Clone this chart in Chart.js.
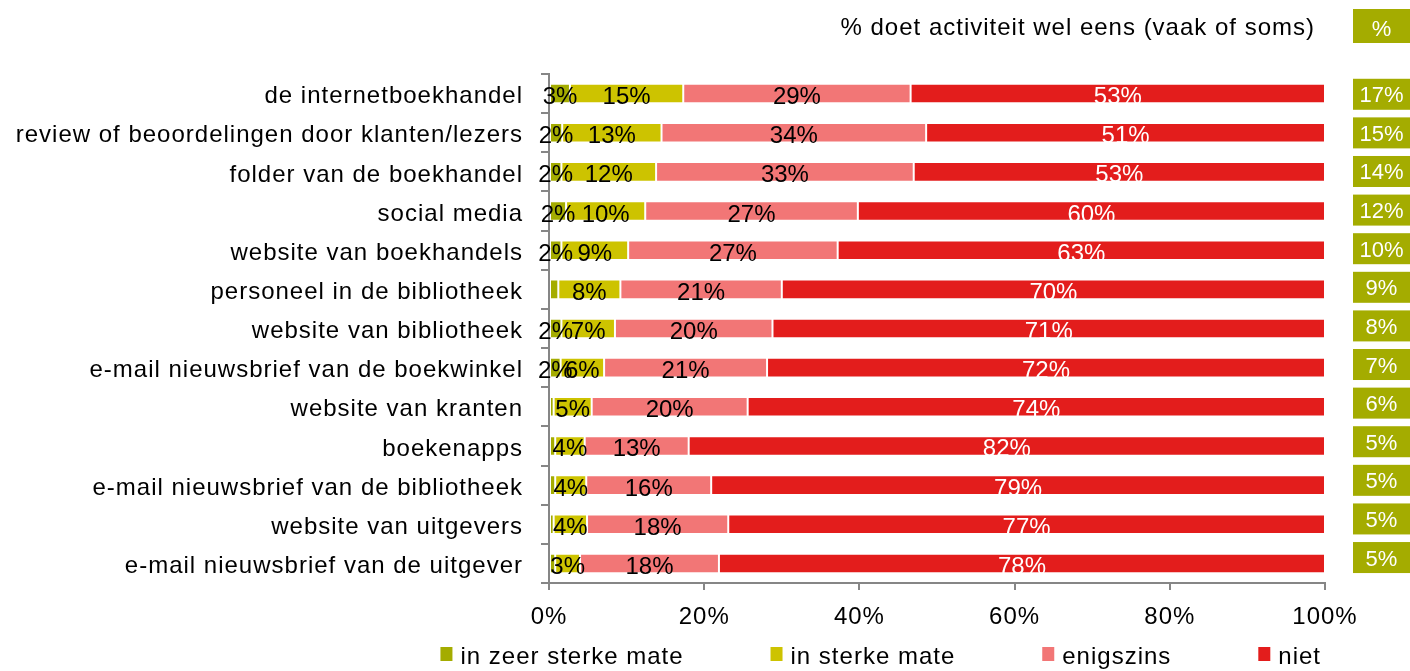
<!DOCTYPE html>
<html>
<head>
<meta charset="utf-8">
<script src="https://cdn.jsdelivr.net/npm/chart.js@4.4.1/dist/chart.umd.min.js"></script>
<style>
  html, body { margin: 0; padding: 0; background: #fff; }
</style>
</head>
<body>
<canvas id="myChart" width="1410" height="671"></canvas>
<script>
// categories (top to bottom)
var categories = [
  'de internetboekhandel',
  'review of beoordelingen door klanten/lezers',
  'folder van de boekhandel',
  'social media',
  'website van boekhandels',
  'personeel in de bibliotheek',
  'website van bibliotheek',
  'e-mail nieuwsbrief van de boekwinkel',
  'website van kranten',
  'boekenapps',
  'e-mail nieuwsbrief van de bibliotheek',
  'website van uitgevers',
  'e-mail nieuwsbrief van de uitgever'
];

// series values (percent)
var zeerSterk = [2.7, 1.7, 1.6, 2.2, 1.6, 1.2, 1.6, 1.5, 0.6, 0.8, 0.8, 0.6, 0.8];
var sterk     = [14.6, 12.8, 12.2, 10.2, 8.6, 8.0, 6.9, 5.6, 4.9, 3.8, 4.0, 4.3, 3.2];
var enigszins = [29.3, 34.1, 33.2, 27.4, 27.0, 20.8, 20.3, 21.0, 20.1, 13.4, 16.1, 18.2, 17.9];
var niet      = [53.4, 51.4, 53.0, 60.2, 62.8, 70.0, 71.2, 71.9, 74.4, 82.0, 79.1, 76.9, 78.1];

// "% doet activiteit wel eens" column
var welEens = [17, 15, 14, 12, 10, 9, 8, 7, 6, 5, 5, 5, 5];

var seriesNames = ['in zeer sterke mate', 'in sterke mate', 'enigszins', 'niet'];
var seriesColors = ['#a4ac00', '#cdc300', '#f27676', '#e31d1c'];
var xTickValues = [0, 20, 40, 60, 80, 100];
var headerText = '% doet activiteit wel eens (vaak of soms)';

var FONT = '"Liberation Sans", Arial, sans-serif';
var boxColor = '#a4ac00';
var axisColor = '#868686';

// letter spacing like the original rendering, for axis text
var spacing = {
  id: 'spacing',
  beforeDraw: function (chart) { chart.ctx.letterSpacing = '1px'; },
  beforeDatasetsDraw: function (chart) { chart.ctx.letterSpacing = '0px'; }
};

// percent labels inside the segments
var segmentLabels = {
  id: 'segmentLabels',
  afterDatasetsDraw: function (chart) {
    var ctx = chart.ctx;
    ctx.save();
    ctx.font = '24px ' + FONT;
    ctx.textAlign = 'center';
    ctx.textBaseline = 'alphabetic';
    chart.data.datasets.forEach(function (ds, di) {
      var meta = chart.getDatasetMeta(di);
      meta.data.forEach(function (bar, i) {
        var r = Math.round(ds.data[i]);
        if (r < 2) return;
        var p = bar.getProps(['x', 'y', 'base'], true);
        ctx.fillStyle = di === 3 ? '#ffffff' : '#000000';
        ctx.fillText(r + '%', (p.x + p.base) / 2, p.y + 10.5);
      });
    });
    ctx.restore();
  }
};

// right column boxes, header and legend
var sidePanel = {
  id: 'sidePanel',
  afterDraw: function (chart) {
    var ctx = chart.ctx, area = chart.chartArea, ys = chart.scales.y;
    ctx.save();
    ctx.letterSpacing = '1px';
    ctx.textBaseline = 'alphabetic';

    // header
    ctx.font = '24px ' + FONT;
    ctx.fillStyle = '#000';
    ctx.textAlign = 'right';
    ctx.fillText(headerText, area.right - 10, 35);

    var bx = area.right + 28, bw = 57;
    ctx.fillStyle = boxColor;
    ctx.fillRect(bx, 9, bw, 34);
    ctx.letterSpacing = '0px';
    ctx.font = '22px ' + FONT;
    ctx.textAlign = 'center';
    ctx.fillStyle = '#fff';
    ctx.fillText('%', bx + bw / 2, 36);

    // boxes per row
    var y0 = ys.getPixelForValue(0) + 0.7;
    var step = (ys.getPixelForValue(1) - ys.getPixelForValue(0)) * 0.986;
    welEens.forEach(function (v, i) {
      var cy = y0 + i * step;
      ctx.fillStyle = boxColor;
      ctx.fillRect(bx, cy - 15.5, bw, 31);
      ctx.fillStyle = '#fff';
      ctx.fillText(v + '%', bx + bw / 2, cy + 8);
    });

    // legend
    ctx.letterSpacing = '1px';
    ctx.font = '24px ' + FONT;
    ctx.textAlign = 'left';
    var gap = 87, marker = 20;
    var widths = seriesNames.map(function (t) { return marker + ctx.measureText(t).width; });
    var total = widths.reduce(function (a, b) { return a + b; }, 0) + gap * (widths.length - 1);
    var x = area.right - 4 - total;
    seriesNames.forEach(function (t, i) {
      ctx.fillStyle = '#ffffff';
      ctx.fillRect(x, 647, 14, 16);
      ctx.fillStyle = seriesColors[i];
      ctx.fillRect(x, 647, 12, 14);
      ctx.fillStyle = '#000';
      ctx.fillText(t, x + marker, 664);
      x += widths[i] + gap;
    });
    ctx.restore();
  }
};

var ctx = document.getElementById('myChart').getContext('2d');
var chart = new Chart(ctx, {
  type: 'bar',
  data: {
    labels: categories,
    datasets: [zeerSterk, sterk, enigszins, niet].map(function (vals, i) {
      return {
        label: seriesNames[i],
        data: vals,
        backgroundColor: seriesColors[i],
        borderColor: '#ffffff',
        borderWidth: 1,
        borderSkipped: false,
        barPercentage: 0.5,
        categoryPercentage: 1
      };
    })
  },
  plugins: [spacing, segmentLabels, sidePanel],
  options: {
    responsive: false,
    animation: false,
    indexAxis: 'y',
    layout: { padding: { top: 74, right: 85, bottom: 38, left: 0 } },
    plugins: {
      legend: { display: false },
      tooltip: { enabled: false }
    },
    scales: {
      x: {
        stacked: true,
        min: 0,
        max: 100,
        afterBuildTicks: function (s) {
          s.ticks = xTickValues.map(function (v) { return { value: v }; });
        },
        ticks: {
          callback: function (v) { return v + '%'; },
          color: '#000',
          font: { family: FONT, size: 24 },
          padding: 13,
          maxRotation: 0
        },
        grid: { display: true, drawOnChartArea: false, drawTicks: true, tickLength: 7, color: axisColor, lineWidth: 2 },
        border: { display: true, color: axisColor, width: 2 },
        afterFit: function (s) { s.height = 50; }
      },
      y: {
        stacked: true,
        ticks: {
          color: '#000',
          font: { family: FONT, size: 24 },
          padding: 18,
          labelOffset: 3,
          autoSkip: false
        },
        grid: { display: true, drawOnChartArea: false, drawTicks: true, tickLength: 8, color: axisColor, lineWidth: 2, offset: true },
        border: { display: true, color: axisColor, width: 2 },
        afterFit: function (s) { s.width = 549; }
      }
    }
  }
});
</script>
</body>
</html>
